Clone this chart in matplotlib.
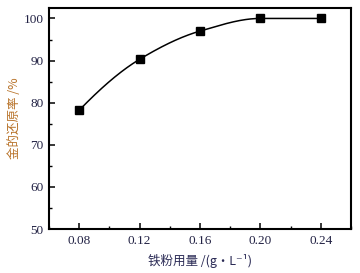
import numpy as np
import matplotlib
matplotlib.use("Agg")
import matplotlib.pyplot as plt

# 数据
铁粉用量 = [0.08, 0.12, 0.16, 0.20, 0.24]
还原率 = [78.2, 90.3, 97.0, 100.0, 100.0]
x_ticks = [0.08, 0.12, 0.16, 0.20, 0.24]
y_ticks = [50, 60, 70, 80, 90, 100]

num_font = ["Liberation Serif", "DejaVu Serif"]
cjk_font = ["Noto Sans CJK SC", "DejaVu Sans"]
tick_color = "#222244"


# 单调三次平滑曲线 (类似 pchip)
def smooth(x, y, n=300):
    x = np.asarray(x, float)
    y = np.asarray(y, float)
    h = np.diff(x)
    d = np.diff(y) / h
    m = np.zeros_like(y)
    for k in range(1, len(x) - 1):
        if d[k - 1] * d[k] > 0:
            w1 = 2 * h[k] + h[k - 1]
            w2 = h[k] + 2 * h[k - 1]
            m[k] = (w1 + w2) / (w1 / d[k - 1] + w2 / d[k])
    # 端点斜率
    m0 = ((2 * h[0] + h[1]) * d[0] - h[0] * d[1]) / (h[0] + h[1])
    m[0] = m0 if m0 * d[0] > 0 else 0.0
    mn = ((2 * h[-1] + h[-2]) * d[-1] - h[-1] * d[-2]) / (h[-1] + h[-2])
    m[-1] = mn if mn * d[-1] > 0 else 0.0
    xs = np.linspace(x[0], x[-1], n)
    i = np.clip(np.searchsorted(x, xs) - 1, 0, len(h) - 1)
    t = (xs - x[i]) / h[i]
    ys = ((2 * t**3 - 3 * t**2 + 1) * y[i] + (t**3 - 2 * t**2 + t) * h[i] * m[i]
          + (-2 * t**3 + 3 * t**2) * y[i + 1] + (t**3 - t**2) * h[i] * m[i + 1])
    return xs, ys


fig = plt.figure(figsize=(3.6, 2.73), dpi=100)
ax = fig.add_axes([0.136, 0.161, 0.839, 0.810])

xs, ys = smooth(铁粉用量, 还原率)
ax.plot(xs, ys, color="black", lw=1.1)
ax.plot(铁粉用量, 还原率, "s", color="black", markersize=6)

ax.set_xlim(0.06, 0.26)
ax.set_ylim(50, 102.5)
ax.set_xticks(x_ticks)
ax.set_xticklabels(["%.2f" % v for v in x_ticks])
ax.set_yticks(y_ticks)
ax.set_xticks(np.arange(0.06, 0.261, 0.02), minor=True)
ax.set_yticks(np.arange(50, 102, 5), minor=True)
ax.tick_params(which="major", direction="in", length=4, width=1.1, colors="black",
               labelcolor=tick_color, labelsize=9.5, pad=4)
ax.tick_params(which="minor", direction="in", length=2, width=1.0)
for lab in ax.get_xticklabels() + ax.get_yticklabels():
    lab.set_family(num_font)
for sp in ax.spines.values():
    sp.set_linewidth(1.5)

ax.set_ylabel("金的还原率 /%", family=cjk_font, fontsize=9, color="#b8732a", labelpad=2)
ax.set_xlabel("铁粉用量 /(g·L⁻¹)", family=cjk_font, fontsize=9, color="#2a2a55", labelpad=5)

fig.savefig("out.png", dpi=100)
